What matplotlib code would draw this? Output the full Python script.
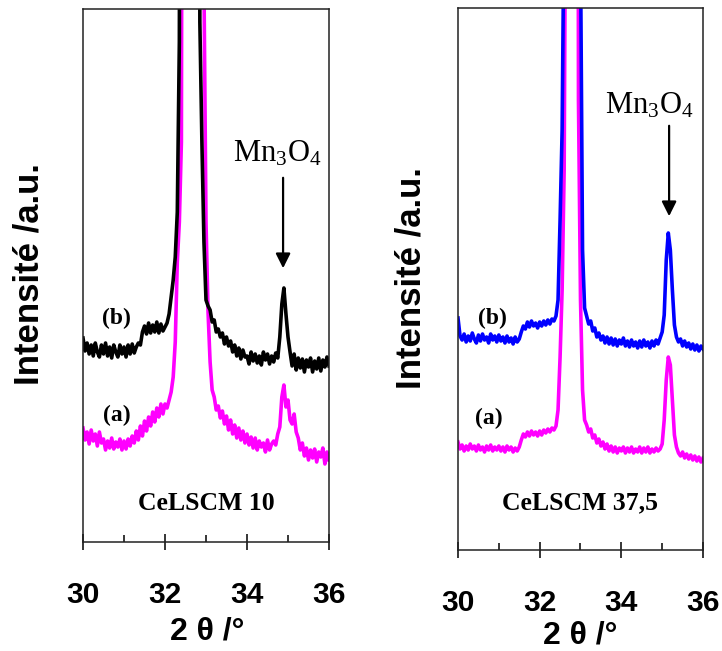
import numpy as np
import matplotlib
matplotlib.use("Agg")
import matplotlib.pyplot as plt
from matplotlib.ticker import MultipleLocator

plt.rcParams['font.family'] = ['Liberation Sans', 'DejaVu Sans']
plt.rcParams['mathtext.fontset'] = 'custom'
plt.rcParams['mathtext.rm'] = 'Liberation Serif'

# 2theta scan grid (step 0.05)
two_theta = np.round(np.linspace(30, 36, 121), 2)

# CeLSCM 10
celscm10_b = [204, 191, 199, 188, 197, 186, 199, 190, 185, 197, 188, 199, 186, 195, 184, 197, 190, 185, 197, 188,
              195, 185, 197, 188, 198, 189, 195, 199, 197, 210, 216, 208, 219, 209, 217, 210, 220, 209, 218, 211,
              215, 219, 228, 245, 262, 285, 330, 500, 1500, 2500, 4000, 5000, 5200, 5000, 4200, 3000, 1800, 520, 400, 300,
              242, 236, 232, 220, 222, 210, 213, 205, 209, 198, 205, 196, 201, 190, 197, 186, 194, 183, 192, 185,
              186, 178, 190, 181, 188, 179, 186, 177, 190, 182, 188, 178, 186, 180, 189, 184, 205, 238, 254, 228,
              205, 190, 176, 188, 172, 184, 174, 183, 170, 182, 175, 184, 170, 181, 173, 184, 171, 182, 175, 185, 176]
celscm10_a = [114, 102, 110, 98, 112, 101, 108, 96, 110, 99, 103, 92, 101, 94, 104, 93, 100, 95, 103, 92,
              101, 93, 103, 96, 106, 99, 111, 102, 116, 106, 121, 111, 125, 116, 130, 120, 134, 125, 138, 128,
              138, 134, 142, 150, 165, 200, 280, 320, 400, 1500, 3500, 4800, 5200, 5200, 4800, 4200, 3400, 2600, 1800, 560,
              320, 230, 180, 152, 145, 132, 136, 124, 131, 118, 126, 112, 122, 108, 117, 104, 114, 102, 111, 99,
              108, 97, 105, 94, 104, 92, 101, 95, 99, 90, 102, 92, 98, 101, 97, 108, 115, 145, 157, 135,
              142, 122, 118, 128, 110, 104, 92, 99, 86, 94, 82, 92, 84, 93, 80, 90, 85, 94, 78, 90, 82]

# CeLSCM 37,5
celscm375_b = [232, 214, 210, 216, 208, 214, 209, 217, 211, 207, 215, 209, 216, 210, 213, 207, 216, 210, 214, 208,
               215, 209, 213, 207, 214, 208, 212, 206, 213, 208, 211, 218, 224, 221, 228, 223, 229, 224, 227, 222,
               228, 224, 229, 225, 230, 226, 231, 229, 234, 250, 330, 420, 650, 2500, 4500, 5000, 4600, 3800, 2600, 1500,
               600, 300, 242, 234, 226, 229, 219, 222, 213, 217, 210, 214, 207, 213, 206, 212, 205, 211, 204, 210,
               206, 212, 204, 209, 203, 210, 204, 208, 202, 209, 203, 210, 204, 208, 202, 209, 204, 210, 206, 212,
               218, 235, 290, 317, 300, 260, 225, 213, 208, 211, 204, 209, 203, 207, 201, 206, 200, 205, 199, 204, 201]
celscm375_a = [108, 101, 105, 99, 104, 100, 106, 101, 104, 99, 105, 100, 103, 98, 104, 100, 105, 99, 103, 100,
               104, 99, 103, 98, 104, 100, 103, 98, 102, 99, 103, 110, 116, 113, 118, 114, 119, 115, 118, 114,
               119, 115, 120, 117, 121, 118, 122, 120, 124, 140, 193, 260, 380, 800, 3800, 5200, 5000, 3800, 2200, 450,
               250, 160, 130, 125, 118, 121, 112, 115, 107, 111, 104, 108, 101, 106, 99, 104, 98, 103, 97, 102,
               99, 103, 97, 102, 98, 103, 97, 101, 98, 103, 97, 102, 98, 103, 97, 101, 98, 102, 99, 101,
               106, 130, 170, 193, 185, 150, 115, 103, 97, 94, 98, 92, 96, 91, 95, 90, 94, 89, 93, 88, 92]

W, H = 722, 651
fig = plt.figure(figsize=(7.22, 6.51), dpi=100)


def add_panel(left, right, top, bottom, ylim, curve_b, color_b, curve_a, sample,
              b_pos, a_pos, mn_x, arrow_top, arrow_tip, mn_label, name_y):
    ax = fig.add_axes([left / W, (H - bottom) / H, (right - left) / W, (bottom - top) / H])
    ax.plot(two_theta, curve_a, color='#FF00FF', lw=2.6)
    ax.plot(two_theta, curve_b, color=color_b, lw=2.6)
    ax.set_xlim(30, 36)
    ax.set_ylim(0, ylim)
    ax.set_yticks([])
    ax.xaxis.set_major_locator(MultipleLocator(2))
    ax.xaxis.set_minor_locator(MultipleLocator(1))
    ax.tick_params(axis='x', which='major', direction='inout', length=12, width=1.1,
                   labelsize=21.5, pad=22)
    ax.tick_params(axis='x', which='minor', direction='in', length=5, width=1.1)
    for lab in ax.get_xticklabels():
        lab.set_fontweight('bold')
    for sp in ax.spines.values():
        sp.set_linewidth(1.1)
        sp.set_color('#222222')
    serif = ['Liberation Serif', 'DejaVu Serif']
    ax.text(b_pos[0], b_pos[1], '(b)', family=serif, fontweight='bold', fontsize=17,
            ha='center', va='center')
    ax.text(a_pos[0], a_pos[1], '(a)', family=serif, fontweight='bold', fontsize=17,
            ha='center', va='center')
    ax.text(33.0, name_y, sample, family=serif, fontweight='bold', fontsize=18.5,
            ha='center', va='center')
    ax.text(mn_label[0], mn_label[1], r'$\mathrm{Mn_3O_4}$', fontsize=22,
            ha='center', va='center')
    ax.annotate('', xy=(mn_x, arrow_tip), xytext=(mn_x, arrow_top),
                arrowprops=dict(arrowstyle='-|>', color='black', lw=1.6, mutation_scale=22))
    return ax


add_panel(83, 329, 9, 542, 533, celscm10_b, 'black', celscm10_a, 'CeLSCM 10',
          (30.82, 224), (30.82, 127), 34.88, 367, 271, (34.73, 388), 39)
add_panel(458, 703, 8, 550, 542, celscm375_b, '#0000FF', celscm375_a, 'CeLSCM 37,5',
          (30.85, 232), (30.75, 132), 35.17, 427, 331, (34.68, 444), 47)

lab_font = dict(fontweight='bold', ha='center', va='center')
fig.text(29 / W, 1 - 274 / H, 'Intensité /a.u.', rotation=90, fontsize=25, **lab_font)
fig.text(411 / W, 1 - 278 / H, 'Intensité /a.u.', rotation=90, fontsize=25, **lab_font)
fig.text(207 / W, 1 - 632 / H, '2 θ /°', fontsize=23, **lab_font)
fig.text(580 / W, 1 - 635 / H, '2 θ /°', fontsize=23, **lab_font)

fig.savefig('out.png', dpi=100)
